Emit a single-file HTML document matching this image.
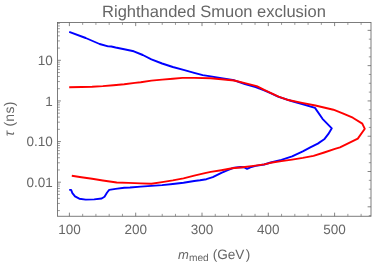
<!DOCTYPE html>
<html><head><meta charset="utf-8"><title>Righthanded Smuon exclusion</title>
<style>
html,body{margin:0;padding:0;background:#fff;}
body{width:374px;height:265px;overflow:hidden;}
svg{display:block;}
text{font-family:"Liberation Sans",sans-serif;fill:#666666;text-rendering:geometricPrecision;}
#txt{filter:grayscale(1);}
</style></head>
<body>
<svg width="374" height="265" viewBox="0 0 374 265">
<rect x="0" y="0" width="374" height="265" fill="#ffffff"/>
<g stroke-width="1" fill="none">
<line x1="69.40" y1="216.25" x2="69.40" y2="212.65" stroke="#666666" stroke-width="0.8"/>
<line x1="69.40" y1="22.5" x2="69.40" y2="26.10" stroke="#666666" stroke-width="0.8"/>
<line x1="82.66" y1="216.25" x2="82.66" y2="213.85" stroke="#666666" stroke-width="0.65"/>
<line x1="82.66" y1="22.5" x2="82.66" y2="24.90" stroke="#666666" stroke-width="0.65"/>
<line x1="95.92" y1="216.25" x2="95.92" y2="213.85" stroke="#666666" stroke-width="0.65"/>
<line x1="95.92" y1="22.5" x2="95.92" y2="24.90" stroke="#666666" stroke-width="0.65"/>
<line x1="109.18" y1="216.25" x2="109.18" y2="213.85" stroke="#666666" stroke-width="0.65"/>
<line x1="109.18" y1="22.5" x2="109.18" y2="24.90" stroke="#666666" stroke-width="0.65"/>
<line x1="122.44" y1="216.25" x2="122.44" y2="213.85" stroke="#666666" stroke-width="0.65"/>
<line x1="122.44" y1="22.5" x2="122.44" y2="24.90" stroke="#666666" stroke-width="0.65"/>
<line x1="135.70" y1="216.25" x2="135.70" y2="212.65" stroke="#666666" stroke-width="0.8"/>
<line x1="135.70" y1="22.5" x2="135.70" y2="26.10" stroke="#666666" stroke-width="0.8"/>
<line x1="148.96" y1="216.25" x2="148.96" y2="213.85" stroke="#666666" stroke-width="0.65"/>
<line x1="148.96" y1="22.5" x2="148.96" y2="24.90" stroke="#666666" stroke-width="0.65"/>
<line x1="162.22" y1="216.25" x2="162.22" y2="213.85" stroke="#666666" stroke-width="0.65"/>
<line x1="162.22" y1="22.5" x2="162.22" y2="24.90" stroke="#666666" stroke-width="0.65"/>
<line x1="175.48" y1="216.25" x2="175.48" y2="213.85" stroke="#666666" stroke-width="0.65"/>
<line x1="175.48" y1="22.5" x2="175.48" y2="24.90" stroke="#666666" stroke-width="0.65"/>
<line x1="188.74" y1="216.25" x2="188.74" y2="213.85" stroke="#666666" stroke-width="0.65"/>
<line x1="188.74" y1="22.5" x2="188.74" y2="24.90" stroke="#666666" stroke-width="0.65"/>
<line x1="202.00" y1="216.25" x2="202.00" y2="212.65" stroke="#666666" stroke-width="0.8"/>
<line x1="202.00" y1="22.5" x2="202.00" y2="26.10" stroke="#666666" stroke-width="0.8"/>
<line x1="215.26" y1="216.25" x2="215.26" y2="213.85" stroke="#666666" stroke-width="0.65"/>
<line x1="215.26" y1="22.5" x2="215.26" y2="24.90" stroke="#666666" stroke-width="0.65"/>
<line x1="228.52" y1="216.25" x2="228.52" y2="213.85" stroke="#666666" stroke-width="0.65"/>
<line x1="228.52" y1="22.5" x2="228.52" y2="24.90" stroke="#666666" stroke-width="0.65"/>
<line x1="241.78" y1="216.25" x2="241.78" y2="213.85" stroke="#666666" stroke-width="0.65"/>
<line x1="241.78" y1="22.5" x2="241.78" y2="24.90" stroke="#666666" stroke-width="0.65"/>
<line x1="255.04" y1="216.25" x2="255.04" y2="213.85" stroke="#666666" stroke-width="0.65"/>
<line x1="255.04" y1="22.5" x2="255.04" y2="24.90" stroke="#666666" stroke-width="0.65"/>
<line x1="268.30" y1="216.25" x2="268.30" y2="212.65" stroke="#666666" stroke-width="0.8"/>
<line x1="268.30" y1="22.5" x2="268.30" y2="26.10" stroke="#666666" stroke-width="0.8"/>
<line x1="281.56" y1="216.25" x2="281.56" y2="213.85" stroke="#666666" stroke-width="0.65"/>
<line x1="281.56" y1="22.5" x2="281.56" y2="24.90" stroke="#666666" stroke-width="0.65"/>
<line x1="294.82" y1="216.25" x2="294.82" y2="213.85" stroke="#666666" stroke-width="0.65"/>
<line x1="294.82" y1="22.5" x2="294.82" y2="24.90" stroke="#666666" stroke-width="0.65"/>
<line x1="308.08" y1="216.25" x2="308.08" y2="213.85" stroke="#666666" stroke-width="0.65"/>
<line x1="308.08" y1="22.5" x2="308.08" y2="24.90" stroke="#666666" stroke-width="0.65"/>
<line x1="321.34" y1="216.25" x2="321.34" y2="213.85" stroke="#666666" stroke-width="0.65"/>
<line x1="321.34" y1="22.5" x2="321.34" y2="24.90" stroke="#666666" stroke-width="0.65"/>
<line x1="334.60" y1="216.25" x2="334.60" y2="212.65" stroke="#666666" stroke-width="0.8"/>
<line x1="334.60" y1="22.5" x2="334.60" y2="26.10" stroke="#666666" stroke-width="0.8"/>
<line x1="347.86" y1="216.25" x2="347.86" y2="213.85" stroke="#666666" stroke-width="0.65"/>
<line x1="347.86" y1="22.5" x2="347.86" y2="24.90" stroke="#666666" stroke-width="0.65"/>
<line x1="361.12" y1="216.25" x2="361.12" y2="213.85" stroke="#666666" stroke-width="0.65"/>
<line x1="361.12" y1="22.5" x2="361.12" y2="24.90" stroke="#666666" stroke-width="0.65"/>
<line x1="57.5" y1="210.59" x2="59.90" y2="210.59" stroke="#666666" stroke-width="0.65"/>
<line x1="57.5" y1="203.43" x2="59.90" y2="203.43" stroke="#666666" stroke-width="0.65"/>
<line x1="57.5" y1="198.36" x2="59.90" y2="198.36" stroke="#666666" stroke-width="0.65"/>
<line x1="57.5" y1="194.42" x2="59.90" y2="194.42" stroke="#666666" stroke-width="0.65"/>
<line x1="57.5" y1="191.20" x2="59.90" y2="191.20" stroke="#666666" stroke-width="0.65"/>
<line x1="57.5" y1="188.48" x2="59.90" y2="188.48" stroke="#666666" stroke-width="0.65"/>
<line x1="57.5" y1="186.13" x2="59.90" y2="186.13" stroke="#666666" stroke-width="0.65"/>
<line x1="57.5" y1="184.05" x2="59.90" y2="184.05" stroke="#666666" stroke-width="0.65"/>
<line x1="57.5" y1="182.19" x2="60.90" y2="182.19" stroke="#666666" stroke-width="0.8"/>
<line x1="57.5" y1="169.96" x2="59.90" y2="169.96" stroke="#666666" stroke-width="0.65"/>
<line x1="57.5" y1="162.80" x2="59.90" y2="162.80" stroke="#666666" stroke-width="0.65"/>
<line x1="57.5" y1="157.73" x2="59.90" y2="157.73" stroke="#666666" stroke-width="0.65"/>
<line x1="57.5" y1="153.79" x2="59.90" y2="153.79" stroke="#666666" stroke-width="0.65"/>
<line x1="57.5" y1="150.57" x2="59.90" y2="150.57" stroke="#666666" stroke-width="0.65"/>
<line x1="57.5" y1="147.85" x2="59.90" y2="147.85" stroke="#666666" stroke-width="0.65"/>
<line x1="57.5" y1="145.50" x2="59.90" y2="145.50" stroke="#666666" stroke-width="0.65"/>
<line x1="57.5" y1="143.42" x2="59.90" y2="143.42" stroke="#666666" stroke-width="0.65"/>
<line x1="57.5" y1="141.56" x2="60.90" y2="141.56" stroke="#666666" stroke-width="0.8"/>
<line x1="57.5" y1="129.33" x2="59.90" y2="129.33" stroke="#666666" stroke-width="0.65"/>
<line x1="57.5" y1="122.17" x2="59.90" y2="122.17" stroke="#666666" stroke-width="0.65"/>
<line x1="57.5" y1="117.10" x2="59.90" y2="117.10" stroke="#666666" stroke-width="0.65"/>
<line x1="57.5" y1="113.16" x2="59.90" y2="113.16" stroke="#666666" stroke-width="0.65"/>
<line x1="57.5" y1="109.94" x2="59.90" y2="109.94" stroke="#666666" stroke-width="0.65"/>
<line x1="57.5" y1="107.22" x2="59.90" y2="107.22" stroke="#666666" stroke-width="0.65"/>
<line x1="57.5" y1="104.87" x2="59.90" y2="104.87" stroke="#666666" stroke-width="0.65"/>
<line x1="57.5" y1="102.79" x2="59.90" y2="102.79" stroke="#666666" stroke-width="0.65"/>
<line x1="57.5" y1="100.93" x2="60.90" y2="100.93" stroke="#666666" stroke-width="0.8"/>
<line x1="57.5" y1="88.70" x2="59.90" y2="88.70" stroke="#666666" stroke-width="0.65"/>
<line x1="57.5" y1="81.54" x2="59.90" y2="81.54" stroke="#666666" stroke-width="0.65"/>
<line x1="57.5" y1="76.47" x2="59.90" y2="76.47" stroke="#666666" stroke-width="0.65"/>
<line x1="57.5" y1="72.53" x2="59.90" y2="72.53" stroke="#666666" stroke-width="0.65"/>
<line x1="57.5" y1="69.31" x2="59.90" y2="69.31" stroke="#666666" stroke-width="0.65"/>
<line x1="57.5" y1="66.59" x2="59.90" y2="66.59" stroke="#666666" stroke-width="0.65"/>
<line x1="57.5" y1="64.24" x2="59.90" y2="64.24" stroke="#666666" stroke-width="0.65"/>
<line x1="57.5" y1="62.16" x2="59.90" y2="62.16" stroke="#666666" stroke-width="0.65"/>
<line x1="57.5" y1="60.30" x2="60.90" y2="60.30" stroke="#666666" stroke-width="0.8"/>
<line x1="57.5" y1="48.07" x2="59.90" y2="48.07" stroke="#666666" stroke-width="0.65"/>
<line x1="57.5" y1="40.91" x2="59.90" y2="40.91" stroke="#666666" stroke-width="0.65"/>
<line x1="57.5" y1="35.84" x2="59.90" y2="35.84" stroke="#666666" stroke-width="0.65"/>
<line x1="57.5" y1="31.90" x2="59.90" y2="31.90" stroke="#666666" stroke-width="0.65"/>
<line x1="57.5" y1="28.68" x2="59.90" y2="28.68" stroke="#666666" stroke-width="0.65"/>
<line x1="57.5" y1="25.96" x2="59.90" y2="25.96" stroke="#666666" stroke-width="0.65"/>
<line x1="57.5" y1="23.61" x2="59.90" y2="23.61" stroke="#666666" stroke-width="0.65"/>
<line x1="371.0" y1="215.63" x2="368.80" y2="215.63" stroke="#666666" stroke-width="0.65"/>
<line x1="371.0" y1="206.80" x2="367.60" y2="206.80" stroke="#666666" stroke-width="0.8"/>
<line x1="371.0" y1="197.98" x2="368.80" y2="197.98" stroke="#666666" stroke-width="0.65"/>
<line x1="371.0" y1="189.16" x2="368.80" y2="189.16" stroke="#666666" stroke-width="0.65"/>
<line x1="371.0" y1="180.33" x2="368.80" y2="180.33" stroke="#666666" stroke-width="0.65"/>
<line x1="371.0" y1="171.51" x2="367.60" y2="171.51" stroke="#666666" stroke-width="0.8"/>
<line x1="371.0" y1="162.69" x2="368.80" y2="162.69" stroke="#666666" stroke-width="0.65"/>
<line x1="371.0" y1="153.87" x2="368.80" y2="153.87" stroke="#666666" stroke-width="0.65"/>
<line x1="371.0" y1="145.04" x2="368.80" y2="145.04" stroke="#666666" stroke-width="0.65"/>
<line x1="371.0" y1="136.22" x2="367.60" y2="136.22" stroke="#666666" stroke-width="0.8"/>
<line x1="371.0" y1="127.40" x2="368.80" y2="127.40" stroke="#666666" stroke-width="0.65"/>
<line x1="371.0" y1="118.58" x2="368.80" y2="118.58" stroke="#666666" stroke-width="0.65"/>
<line x1="371.0" y1="109.75" x2="368.80" y2="109.75" stroke="#666666" stroke-width="0.65"/>
<line x1="371.0" y1="100.93" x2="367.60" y2="100.93" stroke="#666666" stroke-width="0.8"/>
<line x1="371.0" y1="92.11" x2="368.80" y2="92.11" stroke="#666666" stroke-width="0.65"/>
<line x1="371.0" y1="83.28" x2="368.80" y2="83.28" stroke="#666666" stroke-width="0.65"/>
<line x1="371.0" y1="74.46" x2="368.80" y2="74.46" stroke="#666666" stroke-width="0.65"/>
<line x1="371.0" y1="65.64" x2="367.60" y2="65.64" stroke="#666666" stroke-width="0.8"/>
<line x1="371.0" y1="56.82" x2="368.80" y2="56.82" stroke="#666666" stroke-width="0.65"/>
<line x1="371.0" y1="47.99" x2="368.80" y2="47.99" stroke="#666666" stroke-width="0.65"/>
<line x1="371.0" y1="39.17" x2="368.80" y2="39.17" stroke="#666666" stroke-width="0.65"/>
<line x1="371.0" y1="30.35" x2="367.60" y2="30.35" stroke="#666666" stroke-width="0.8"/>
</g>
<rect x="57.5" y="22.5" width="313.50" height="193.75" fill="none" stroke="#666666" stroke-width="0.85"/>
<path d="M69.2,31.8 L85.7,38.0 L99.6,44.0 L108.1,46.4 L111.3,46.5 L115.6,47.5 L124.2,49.2 L133.8,51.3 L142.8,55.0 L151.4,59.3 L162.1,63.5 L172.8,67.0 L183.5,69.9 L194.2,72.9 L202.7,75.1 L210.7,76.4 L221.4,78.2 L234.2,80.3 L244.9,84.0 L255.6,87.0 L264.2,90.3 L270.0,92.8 L278.6,96.8 L291.4,101.0 L302.1,104.0 L315.0,107.9 L322.5,118.8 L331.8,128.3 L328.4,133.9 L324.2,139.3 L317.8,143.6 L310.3,147.4 L302.8,151.4 L292.1,156.4 L281.4,159.8 L270.7,162.5 L264.2,164.5 L255.6,165.9 L250.3,167.4 L247.1,168.9 L243.9,167.2 L240.6,167.0 L234.2,167.6 L227.8,170.2 L221.4,172.8 L212.8,177.1 L206.4,179.2 L200.0,180.3 L194.2,181.0 L183.5,182.7 L172.8,184.0 L162.1,185.1 L151.4,185.9 L140.7,186.6 L130.0,187.5 L124.2,187.8 L115.6,188.9 L109.2,189.9 L107.1,192.5 L104.5,196.8 L101.7,198.5 L94.2,199.4 L85.7,199.6 L79.3,198.7 L75.0,196.4 L72.4,193.2 L71.1,189.9 L69.2,189.9" fill="none" stroke="#0000ff" stroke-width="1.9" stroke-linejoin="round" stroke-linecap="butt"/>
<path d="M69.2,87.2 L81.4,87.0 L92.1,86.7 L102.8,86.1 L113.5,85.2 L124.2,84.2 L134.9,82.9 L140.7,82.2 L151.4,80.6 L162.1,79.6 L172.8,78.7 L182.4,77.9 L194.2,77.9 L210.7,78.2 L221.4,79.2 L234.2,80.5 L244.9,83.1 L256.7,86.1 L264.2,89.9 L272.7,93.8 L278.6,96.7 L287.1,99.7 L302.1,102.9 L315.4,105.5 L333.4,109.7 L342.7,113.4 L352.8,117.7 L362.3,123.6 L364.8,128.8 L357.8,138.6 L340.0,147.3 L334.9,148.9 L324.2,152.5 L313.5,155.9 L302.8,157.9 L292.1,159.6 L281.4,161.1 L270.7,162.8 L264.2,164.4 L253.5,165.9 L242.8,167.2 L232.1,168.3 L221.4,170.2 L210.7,171.9 L204.9,173.1 L194.2,175.7 L183.5,178.4 L172.8,180.4 L162.1,182.1 L151.4,183.8 L140.7,183.4 L128.4,182.9 L116.7,182.5 L102.8,180.5 L92.1,178.8 L81.4,177.2 L71.8,175.8" fill="none" stroke="#ff0000" stroke-width="1.9" stroke-linejoin="round" stroke-linecap="butt"/>
<g id="txt">
<text x="214" y="16.7" text-anchor="middle" font-size="16.5">Righthanded Smuon exclusion</text>
<text x="52.7" y="65.05" text-anchor="end" font-size="13.5">10</text>
<text x="52.7" y="105.68" text-anchor="end" font-size="13.5">1</text>
<text x="52.7" y="146.31" text-anchor="end" font-size="13.5">0.10</text>
<text x="52.7" y="186.94" text-anchor="end" font-size="13.5">0.01</text>
<text x="69.40" y="234.2" text-anchor="middle" font-size="13.5">100</text>
<text x="135.70" y="234.2" text-anchor="middle" font-size="13.5">200</text>
<text x="202.00" y="234.2" text-anchor="middle" font-size="13.5">300</text>
<text x="268.30" y="234.2" text-anchor="middle" font-size="13.5">400</text>
<text x="334.60" y="234.2" text-anchor="middle" font-size="13.5">500</text>
<text x="178" y="259" font-size="13" font-style="italic">m</text>
<text x="188.9" y="261.4" font-size="10.2">med</text>
<text x="212.7" y="259" font-size="13.6">(GeV</text>
<text x="245.7" y="259" font-size="13.6">)</text>
<text transform="translate(14.2,136.2) rotate(-90)" font-size="14" font-style="italic">τ</text>
<text transform="translate(14.2,101.3) rotate(-90)" text-anchor="end" font-size="14" letter-spacing="0.3">(ns)</text>
</g>
</svg>
</body></html>
